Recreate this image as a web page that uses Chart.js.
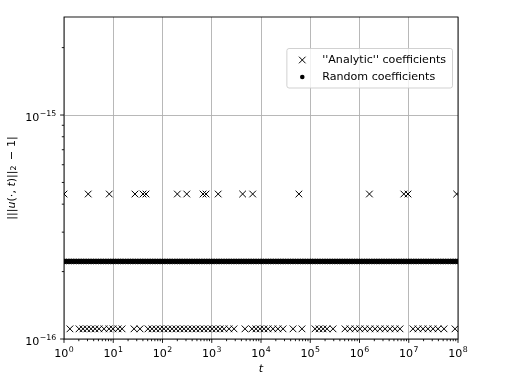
<!DOCTYPE html>
<html>
<head>
<meta charset="utf-8">
<script src="https://cdn.jsdelivr.net/npm/chart.js@4"></script>
<style>
  html, body { margin: 0; padding: 0; background: #fff; }
  canvas { display: block; }
</style>
</head>
<body>
<canvas id="chart" width="511" height="383"></canvas>
<script>
// levels (|norm - 1|) of each series
const analyticHighLevel = 4.44e-16;
const analyticLowLevel = 1.11e-16;
const randomLevel = 2.22e-16;

// times where the "analytic" run sits on the upper level
const analyticHighT = [1, 3.1, 8.3, 27.6, 40.2, 46.2, 200, 311, 665, 766, 1350, 4240, 6780,
  58900, 1.59e6, 7.95e6, 9.66e6, 9.4e7];

// times where the "analytic" run sits on the lower level
const analyticLowT = [1.32, 2.02, 2.43, 2.93, 3.53, 4.26, 5.14, 6.49, 8.2, 9.88, 12.5, 15.1,
  26.4, 34.9, 50.8, 61.2, 73.8, 89, 107, 129, 156, 188, 227, 273, 330, 397, 479, 577, 696,
  839, 1012, 1220, 1471, 1774, 2240, 2830, 4730, 6560, 7910, 9540, 11500, 13900, 17500,
  22100, 28000, 44700, 67900, 1.25e5, 1.51e5, 1.82e5, 2.19e5, 2.9e5, 5.08e5, 6.41e5,
  8.11e5, 1.02e6, 1.29e6, 1.63e6, 2.07e6, 2.61e6, 3.3e6, 4.16e6, 5.26e6, 6.64e6, 1.22e7,
  1.54e7, 1.95e7, 2.46e7, 3.11e7, 3.93e7, 5.2e7, 8.69e7];

// times of the random-coefficient run
const randomT = [
  1.00e0, 1.12e0, 1.26e0, 1.41e0, 1.58e0, 1.78e0, 2.00e0, 2.24e0, 2.51e0, 2.82e0, 3.16e0, 3.55e0, 3.98e0, 4.47e0, 5.01e0, 5.62e0, 6.31e0, 7.08e0, 7.94e0, 8.91e0,
  1.00e1, 1.12e1, 1.26e1, 1.41e1, 1.58e1, 1.78e1, 2.00e1, 2.24e1, 2.51e1, 2.82e1, 3.16e1, 3.55e1, 3.98e1, 4.47e1, 5.01e1, 5.62e1, 6.31e1, 7.08e1, 7.94e1, 8.91e1,
  1.00e2, 1.12e2, 1.26e2, 1.41e2, 1.58e2, 1.78e2, 2.00e2, 2.24e2, 2.51e2, 2.82e2, 3.16e2, 3.55e2, 3.98e2, 4.47e2, 5.01e2, 5.62e2, 6.31e2, 7.08e2, 7.94e2, 8.91e2,
  1.00e3, 1.12e3, 1.26e3, 1.41e3, 1.58e3, 1.78e3, 2.00e3, 2.24e3, 2.51e3, 2.82e3, 3.16e3, 3.55e3, 3.98e3, 4.47e3, 5.01e3, 5.62e3, 6.31e3, 7.08e3, 7.94e3, 8.91e3,
  1.00e4, 1.12e4, 1.26e4, 1.41e4, 1.58e4, 1.78e4, 2.00e4, 2.24e4, 2.51e4, 2.82e4, 3.16e4, 3.55e4, 3.98e4, 4.47e4, 5.01e4, 5.62e4, 6.31e4, 7.08e4, 7.94e4, 8.91e4,
  1.00e5, 1.12e5, 1.26e5, 1.41e5, 1.58e5, 1.78e5, 2.00e5, 2.24e5, 2.51e5, 2.82e5, 3.16e5, 3.55e5, 3.98e5, 4.47e5, 5.01e5, 5.62e5, 6.31e5, 7.08e5, 7.94e5, 8.91e5,
  1.00e6, 1.12e6, 1.26e6, 1.41e6, 1.58e6, 1.78e6, 2.00e6, 2.24e6, 2.51e6, 2.82e6, 3.16e6, 3.55e6, 3.98e6, 4.47e6, 5.01e6, 5.62e6, 6.31e6, 7.08e6, 7.94e6, 8.91e6,
  1.00e7, 1.12e7, 1.26e7, 1.41e7, 1.58e7, 1.78e7, 2.00e7, 2.24e7, 2.51e7, 2.82e7, 3.16e7, 3.55e7, 3.98e7, 4.47e7, 5.01e7, 5.62e7, 6.31e7, 7.08e7, 7.94e7, 8.91e7,
  1.00e8
];

// tick labels (powers of ten)
const xTickExponents = [0, 1, 2, 3, 4, 5, 6, 7, 8];
const yTickExponents = [-16, -15];

const legendLabels = ["''Analytic'' coefficients", "Random coefficients"];

const FONT = 'DejaVu Sans';
const GRID = '#b0b0b0';

Chart.defaults.font.family = FONT;
Chart.defaults.font.size = 11;
Chart.defaults.color = '#000';

function exponentOf(v) {
  const e = Math.log10(v);
  return Math.abs(e - Math.round(e)) < 1e-6 ? Math.round(e) : null;
}
function isMajor(v) {
  return exponentOf(v) !== null;
}
function isWholeSignificand(v) {
  const m = v / Math.pow(10, Math.floor(Math.log10(v) + 1e-9));
  return Math.abs(m - Math.round(m)) < 1e-6;
}

function drawCross(ctx, x, y, h) {
  ctx.beginPath();
  ctx.moveTo(x - h, y - h); ctx.lineTo(x + h, y + h);
  ctx.moveTo(x - h, y + h); ctx.lineTo(x + h, y - h);
  ctx.stroke();
}

// "10" with a raised exponent; align: 'center' or 'right'
function drawPow(ctx, e, x, baseline, align) {
  const base = '10', exp = String(e).replace('-', '−');
  ctx.font = '11.1px ' + FONT;
  const wb = ctx.measureText(base).width;
  ctx.font = '7.8px ' + FONT;
  const we = ctx.measureText(exp).width;
  const w = wb + we + 0.5;
  const x0 = align === 'right' ? x - w : x - w / 2;
  ctx.textAlign = 'left';
  ctx.textBaseline = 'alphabetic';
  ctx.font = '11.1px ' + FONT;
  ctx.fillText(base, x0, baseline);
  ctx.font = '7.8px ' + FONT;
  ctx.fillText(exp, x0 + wb + 0.5, baseline - 4.6);
}

// y label with italic u and t, written bottom to top
function drawYTitle(ctx, cx, cy) {
  const parts = [
    ['|||', '', 11.1, 0], ['u', 'italic ', 11.1, 0], ['(·, ', '', 11.1, 0],
    ['t', 'italic ', 11.1, 0], [')||', '', 11.1, 0], ['2', '', 7.8, 2.3],
    [' − 1|', '', 11.1, 0],
  ];
  ctx.save();
  ctx.translate(cx, cy);
  ctx.rotate(-Math.PI / 2);
  let total = 0;
  for (const p of parts) {
    ctx.font = p[1] + p[2] + 'px ' + FONT;
    total += ctx.measureText(p[0]).width + (p[0] === ' − 1|' ? 2 : 0);
  }
  let x = -total / 2;
  ctx.textBaseline = 'middle';
  ctx.textAlign = 'left';
  ctx.fillStyle = '#000';
  for (const p of parts) {
    ctx.font = p[1] + p[2] + 'px ' + FONT;
    let txt = p[0];
    if (txt === ' − 1|') x += 2;
    ctx.fillText(txt, x, p[3]);
    x += ctx.measureText(txt).width;
  }
  ctx.restore();
}

// spines, outward ticks, tick labels, y title and the legend box, drawn like matplotlib
const framePlugin = {
  id: 'frame',
  afterDraw(chart) {
    const ctx = chart.ctx;
    const a = chart.chartArea;
    const xs = chart.scales.x, ys = chart.scales.y;
    ctx.save();
    ctx.strokeStyle = '#000';
    ctx.fillStyle = '#000';
    ctx.lineWidth = 0.9;

    for (const t of xs.ticks) {
      if (!isWholeSignificand(t.value)) continue;
      const px = xs.getPixelForValue(t.value);
      if (px < a.left - 0.5 || px > a.right + 0.5) continue;
      const len = isMajor(t.value) ? 3.9 : 2.2;
      ctx.beginPath();
      ctx.moveTo(px, a.bottom);
      ctx.lineTo(px, a.bottom + len);
      ctx.stroke();
    }
    for (const t of ys.ticks) {
      if (!isWholeSignificand(t.value)) continue;
      const py = ys.getPixelForValue(t.value);
      if (py < a.top - 0.5 || py > a.bottom + 0.5) continue;
      const len = isMajor(t.value) ? 3.9 : 2.2;
      ctx.beginPath();
      ctx.moveTo(a.left, py);
      ctx.lineTo(a.left - len, py);
      ctx.stroke();
    }
    ctx.strokeRect(a.left, a.top, a.right - a.left, a.bottom - a.top);

    for (const e of xTickExponents) {
      drawPow(ctx, e, xs.getPixelForValue(Math.pow(10, e)), a.bottom + 18, 'center');
    }
    for (const e of yTickExponents) {
      drawPow(ctx, e, a.left - 7.8, ys.getPixelForValue(Math.pow(10, e)) + 5.5, 'right');
    }
    drawYTitle(ctx, 12, (a.top + a.bottom) / 2);

    // legend
    ctx.font = '11.1px ' + FONT;
    const textW = Math.max(...legendLabels.map(s => ctx.measureText(s).width));
    const pad = 4.4, handle = 22, gap = 8.9, rowH = 17;
    const boxW = pad + handle + gap + textW + pad + 2;
    const right = a.right - 5.5;
    const left = right - boxW;
    const top = 48.5;
    const boxH = 39.5;
    ctx.beginPath();
    ctx.roundRect(left, top, boxW, boxH, 2.2);
    ctx.fillStyle = 'rgba(255,255,255,0.8)';
    ctx.fill();
    ctx.strokeStyle = '#cccccc';
    ctx.stroke();

    const hx = left + pad + handle / 2;
    const tx = left + pad + handle + gap;
    const row1 = top + 11.5, row2 = row1 + rowH;
    ctx.strokeStyle = '#000';
    ctx.fillStyle = '#000';
    ctx.lineWidth = 1;
    drawCross(ctx, hx, row1, 3.3);
    ctx.beginPath();
    ctx.arc(hx, row2, 2.3, 0, Math.PI * 2);
    ctx.fill();
    ctx.textBaseline = 'middle';
    ctx.textAlign = 'left';
    ctx.fillText(legendLabels[0], tx, row1);
    ctx.fillText(legendLabels[1], tx, row2);
    ctx.restore();
  }
};

const gridColor = ctx => (ctx.tick && isMajor(ctx.tick.value)) ? GRID : 'rgba(0,0,0,0)';

new Chart(document.getElementById('chart'), {
  type: 'scatter',
  data: {
    datasets: [
      {
        label: legendLabels[0],
        data: analyticHighT.map(t => ({ x: t, y: analyticHighLevel }))
          .concat(analyticLowT.map(t => ({ x: t, y: analyticLowLevel }))),
        pointStyle: 'crossRot',
        pointRadius: 4.7,
        pointBorderWidth: 1,
        borderColor: '#000',
        backgroundColor: '#000',
        clip: 0,
      },
      {
        label: legendLabels[1],
        data: randomT.map(t => ({ x: t, y: randomLevel })),
        pointStyle: 'circle',
        pointRadius: 2.4,
        pointBorderWidth: 1,
        borderColor: '#000',
        backgroundColor: '#000',
        clip: 0,
      },
    ],
  },
  options: {
    responsive: false,
    animation: false,
    events: [],
    layout: { padding: { left: 0, right: 53, top: 17, bottom: 0 } },
    plugins: { legend: { display: false }, tooltip: { enabled: false } },
    scales: {
      x: {
        type: 'logarithmic',
        min: 1,
        max: 1e8,
        afterFit: s => { s.height = 44; },
        border: { display: false },
        grid: { color: gridColor, lineWidth: 0.9, drawTicks: false },
        ticks: { autoSkip: false, display: false },
        title: {
          display: true,
          text: 't',
          font: { size: 11.1, style: 'italic' },
          padding: { top: 0, bottom: 7 },
        },
      },
      y: {
        type: 'logarithmic',
        min: 1e-16,
        max: 2.74e-15,
        afterFit: s => { s.width = 64; },
        border: { display: false },
        grid: { color: gridColor, lineWidth: 0.9, drawTicks: false },
        ticks: { autoSkip: false, display: false },
      },
    },
  },
  plugins: [framePlugin],
});
</script>
</body>
</html>
